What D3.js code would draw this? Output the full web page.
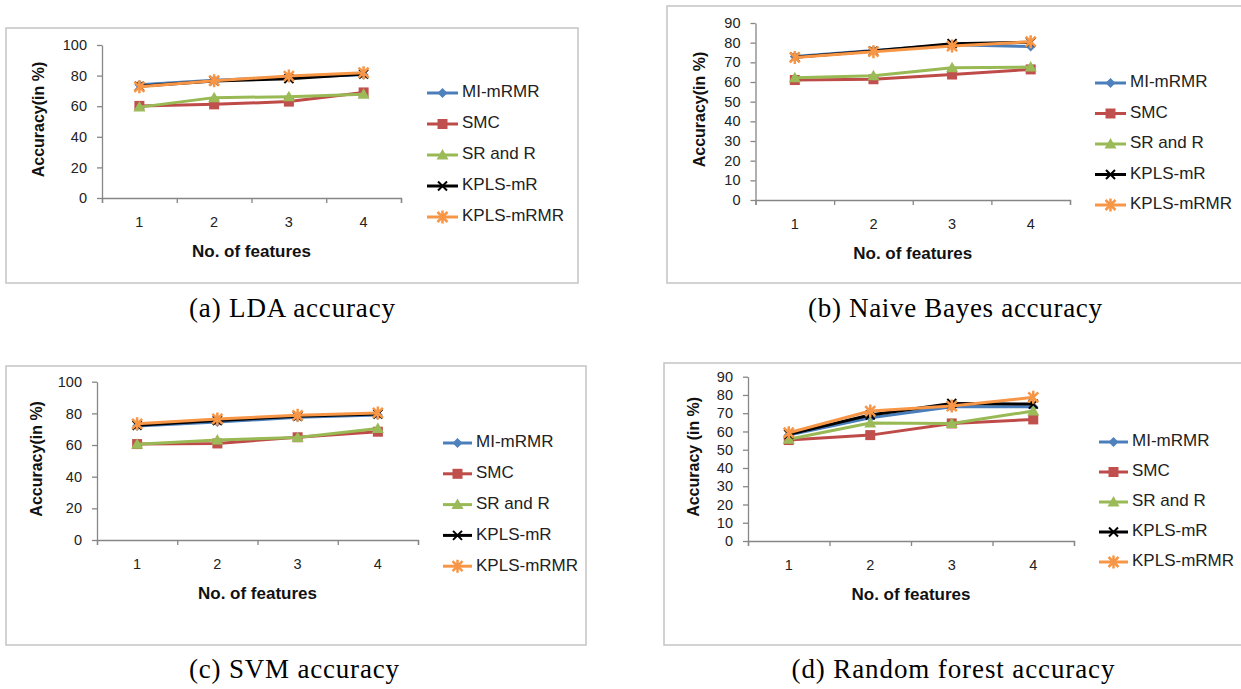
<!DOCTYPE html>
<html>
<head>
<meta charset="utf-8">
<script src="https://cdn.jsdelivr.net/npm/d3@7"></script>
<style>
  body { margin: 0; background: #fff; }
  svg { display: block; }
</style>
</head>
<body>
<svg id="chart" width="1241" height="689"></svg>
<script>
var features = [1, 2, 3, 4];
var seriesNames = ["MI-mRMR", "SMC", "SR and R", "KPLS-mR", "KPLS-mRMR"];
var seriesColors = ["#4a7ebb", "#be4b48", "#98b954", "#000000", "#f79646"];
var seriesMarkers = ["diamond", "square", "triangle", "cross", "star"];

// accuracy in %, one row per method (same order as seriesNames)
var ldaAccuracy = [
  [74, 77, 79, 80.5],
  [60.2, 61.2, 63, 69],
  [59.4, 65.6, 66.2, 67.8],
  [73, 76.5, 78, 81],
  [72.7, 76.7, 79.7, 81.9]
];
var nbAccuracy = [
  [73, 76, 79, 78],
  [61, 61.4, 63.8, 66.4],
  [62.2, 63.2, 67.2, 67.6],
  [72.6, 75.8, 79.5, 80.2],
  [72.5, 75.4, 78.3, 80.5]
];
var svmAccuracy = [
  [72, 74.5, 77.5, 79],
  [60.6, 61, 64.9, 68.4],
  [60.5, 63.2, 64.8, 70.5],
  [72.5, 75.5, 78.2, 79.6],
  [73.4, 76.5, 78.8, 80.3]
];
var rfAccuracy = [
  [58, 67.5, 73.5, 73.5],
  [55.3, 58, 64.4, 66.6],
  [55.7, 64.6, 64.4, 71.2],
  [58.5, 69, 75.3, 75],
  [59.3, 71.2, 73.9, 78.7]
];

var ticks100 = [0, 20, 40, 60, 80, 100];
var ticks90 = [0, 10, 20, 30, 40, 50, 60, 70, 80, 90];
var xTitle = "No. of features";
var captions = ["(a) LDA accuracy", "(b) Naive Bayes accuracy", "(c) SVM accuracy", "(d) Random forest accuracy"];

var panels = [
  { values: ldaAccuracy, ticks: ticks100, yTitle: "Accuracy(in %)", caption: captions[0],
    box: [6, 28, 572, 255], plot: [102, 401, 45, 198], yTitleX: 40,
    legend: [427, 462, 93, 31], cap: [292, 311, 206] },
  { values: nbAccuracy, ticks: ticks90, yTitle: "Accuracy(in %)", caption: captions[1],
    box: [667, 6, 620, 277], plot: [755.5, 1070, 23, 200], yTitleX: 701,
    legend: [1095, 1130, 83, 30.5], cap: [955, 311, 294] },
  { values: svmAccuracy, ticks: ticks100, yTitle: "Accuracy(in %)", caption: captions[2],
    box: [6, 366, 580, 279], plot: [97, 418, 381.7, 540], yTitleX: 38,
    legend: [443, 476, 443, 30.8], cap: [294, 672, 210] },
  { values: rfAccuracy, ticks: ticks90, yTitle: "Accuracy (in %)", caption: captions[3],
    box: [664, 363, 620, 282], plot: [748, 1074, 376.7, 541], yTitleX: 695,
    legend: [1099, 1132, 442, 30], cap: [953, 672, 323] }
];

var svg = d3.select("#chart");
var chartFont = "'Liberation Sans', Arial, sans-serif";

function drawMarker(g, type, color) {
  if (type == "diamond") {
    g.append("path").attr("d", "M0,-5L5,0L0,5L-5,0Z").attr("fill", "#4f81bd");
  } else if (type == "square") {
    g.append("rect").attr("x", -5).attr("y", -5).attr("width", 10).attr("height", 10).attr("fill", "#c0504d");
  } else if (type == "triangle") {
    g.append("path").attr("d", "M0,-6L6,4.5L-6,4.5Z").attr("fill", "#9bbb59");
  } else if (type == "cross") {
    g.append("path").attr("d", "M-4.5,-4.5L4.5,4.5M4.5,-4.5L-4.5,4.5")
      .attr("stroke", color).attr("stroke-width", 2);
  } else {
    g.append("path").attr("d", "M-5,-5L5,5M5,-5L-5,5M0,-6.5L0,6.5")
      .attr("stroke", color).attr("stroke-width", 2.5);
  }
}

panels.forEach(function(p) {
  var g = svg.append("g");
  g.append("rect")
    .attr("x", p.box[0]).attr("y", p.box[1])
    .attr("width", p.box[2]).attr("height", p.box[3])
    .attr("fill", "#fff").attr("stroke", "#c4c4c4").attr("stroke-width", 1.5);

  var left = p.plot[0], right = p.plot[1], top = p.plot[2], bottom = p.plot[3];
  var y = d3.scaleLinear().domain([0, d3.max(p.ticks)]).range([bottom, top]);
  var x = d3.scaleBand().domain(features).range([left, right]);
  var xEdge = d3.scaleLinear().domain([0, features.length]).range([left, right]);

  // y axis
  var ya = g.append("g").attr("transform", "translate(" + left + ",0)")
    .call(d3.axisLeft(y).tickValues(p.ticks).tickSize(5).tickPadding(10).tickSizeOuter(0));
  // x axis: ticks between categories, labels at category centres
  var xa = g.append("g").attr("transform", "translate(0," + bottom + ")")
    .call(d3.axisBottom(xEdge).ticks(features.length).tickSize(5).tickFormat(""));
  var xl = g.append("g").attr("transform", "translate(0," + bottom + ")")
    .call(d3.axisBottom(x).tickSize(0).tickPadding(19));
  xl.select(".domain").remove();

  [ya, xa, xl].forEach(function(a) {
    a.selectAll("path, line").attr("stroke", "#868686").attr("stroke-width", 1.3);
    a.selectAll("text").attr("font-family", chartFont).attr("font-size", 14.5).attr("fill", "#222");
  });

  g.append("text")
    .attr("x", (left + right) / 2).attr("y", bottom + 55)
    .attr("text-anchor", "middle").attr("dominant-baseline", "middle")
    .attr("font-family", chartFont).attr("font-weight", "bold").attr("font-size", 17)
    .attr("fill", "#111")
    .text(xTitle);

  g.append("text")
    .attr("transform", "translate(" + p.yTitleX + "," + ((top + bottom) / 2 - 2) + ") rotate(-90)")
    .attr("text-anchor", "middle").attr("dominant-baseline", "middle")
    .attr("font-family", chartFont).attr("font-weight", "bold").attr("font-size", 16)
    .attr("fill", "#111")
    .text(p.yTitle);

  var line = d3.line()
    .x(function(d, i) { return x(features[i]) + x.bandwidth() / 2; })
    .y(function(d) { return y(d); });

  p.values.forEach(function(vals, s) {
    g.append("path")
      .attr("d", line(vals))
      .attr("fill", "none")
      .attr("stroke", seriesColors[s])
      .attr("stroke-width", 3)
      .attr("stroke-linejoin", "round");
    vals.forEach(function(v, i) {
      var m = g.append("g")
        .attr("transform", "translate(" + (x(features[i]) + x.bandwidth() / 2) + "," + y(v) + ")");
      drawMarker(m, seriesMarkers[s], seriesColors[s]);
    });
  });

  // legend
  seriesNames.forEach(function(name, s) {
    var ly = p.legend[2] + s * p.legend[3];
    g.append("line")
      .attr("x1", p.legend[0]).attr("x2", p.legend[1] - 4)
      .attr("y1", ly).attr("y2", ly)
      .attr("stroke", seriesColors[s]).attr("stroke-width", 3);
    var m = g.append("g")
      .attr("transform", "translate(" + ((p.legend[0] + p.legend[1] - 4) / 2) + "," + ly + ")");
    drawMarker(m, seriesMarkers[s], seriesColors[s]);
    g.append("text")
      .attr("x", p.legend[1]).attr("y", ly)
      .attr("dominant-baseline", "middle")
      .attr("font-family", chartFont).attr("font-size", 17).attr("fill", "#222")
      .text(name);
  });

  svg.append("text")
    .attr("x", p.cap[0]).attr("y", p.cap[1])
    .attr("text-anchor", "middle").attr("dominant-baseline", "middle")
    .attr("font-family", "'Liberation Serif', 'Times New Roman', serif")
    .attr("font-size", 27)
    .attr("textLength", p.cap[2])
    .attr("fill", "#000")
    .text(p.caption);
});
</script>
</body>
</html>
